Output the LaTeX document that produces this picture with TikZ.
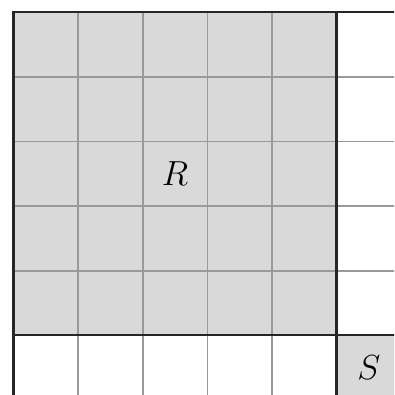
\documentclass[tikz,border=0pt]{standalone}
\begin{document}
\begin{tikzpicture}[x=1pt,y=-1pt,
  gridline/.style={draw=black!40,line width=1.6pt},
  frameline/.style={draw=black!85,line width=2.2pt},
  shade/.style={fill=black!15},
  lbl/.style={font=\Huge}]
\useasboundingbox (0,0) rectangle (394,395);
\clip (0,0) rectangle (394,395);
\def\cs{64.6}
\def\ox{13.5}
\def\oy{12.3}
% shaded regions
\fill[shade] (\ox,\oy) rectangle (\ox+5*\cs,\oy+5*\cs);
\fill[shade] (\ox+5*\cs,\oy+5*\cs) rectangle (\ox+6*\cs,\oy+6*\cs);
% gray grid
\foreach \i in {1,...,6} {
  \draw[gridline] (\ox+\i*\cs,\oy) -- (\ox+\i*\cs,400);
  \draw[gridline] (\ox,\oy+\i*\cs) -- (400,\oy+\i*\cs);
}
% black frame lines
\draw[frameline] (\ox,400) -- (\ox,\oy) -- (400,\oy);
\draw[frameline] (\ox+5*\cs,\oy) -- (\ox+5*\cs,400);
\draw[frameline] (\ox,\oy+5*\cs) -- (400,\oy+5*\cs);
% labels
\node[lbl] (R) at (\ox+2.5*\cs,\oy+2.5*\cs) {\scalebox{1.4}{$R$}};
\node[lbl] (S) at (\ox+5.5*\cs,\oy+5.5*\cs) {\scalebox{1.4}{$S$}};
\end{tikzpicture}
\end{document}
